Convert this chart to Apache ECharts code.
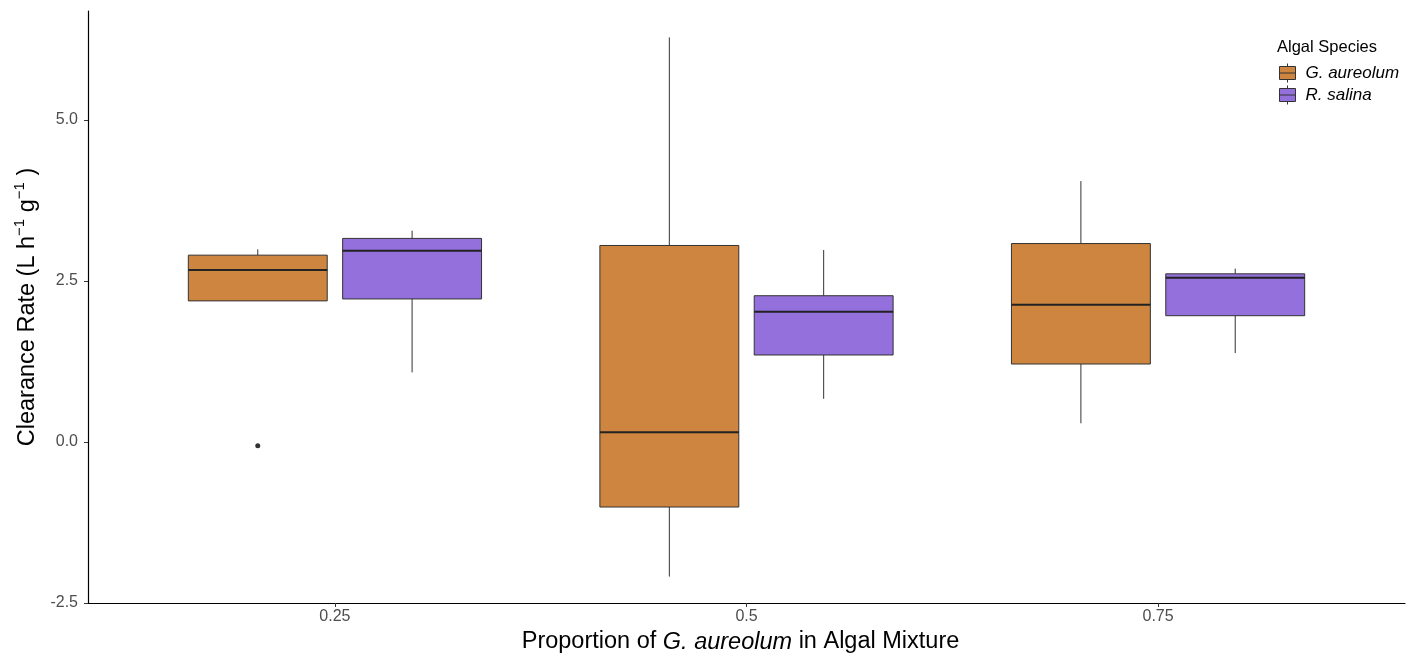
<!DOCTYPE html>
<html>
<head>
<meta charset="utf-8">
<script src="https://cdn.jsdelivr.net/npm/echarts@6/dist/echarts.min.js"></script>
<style>html,body{margin:0;padding:0;background:#fff}#c{width:1417px;height:670px}</style>
</head>
<body>
<div id="c"></div>
<script>
// ---- data ----
const categories = ['0.25', '0.5', '0.75'];
const speciesNames = ['G. aureolum', 'R. salina'];
// [min, Q1, median, Q3, max] per category
const gAureolum = [
  [2.19, 2.19, 2.67, 2.90, 2.99],
  [-2.09, -1.01, 0.15, 3.05, 6.28],
  [0.29, 1.21, 2.13, 3.08, 4.05]
];
const rSalina = [
  [1.08, 2.22, 2.97, 3.16, 3.28],
  [0.67, 1.35, 2.02, 2.27, 2.98],
  [1.38, 1.96, 2.55, 2.61, 2.69]
];
// outliers: [categoryIndex, value]
const gOutliers = [[0, -0.06]];
const rOutliers = [];
const yTicks = [-2.5, 0, 2.5, 5];

// ---- layout/style ----
const FONT = 'Liberation Sans, Arial, sans-serif';
const COLORS = ['#CD853F', '#9370DB'];
const DODGE = 0.1875;
const BOX_W = 0.3375;

function rows(stats) {
  return stats.map((s, i) => [i + 1].concat(s));
}
function makeRender(offset, color) {
  return function (params, api) {
    const x = api.value(0) + offset;
    const w = api.size([BOX_W, 0])[0];
    const pMin = api.coord([x, api.value(1)]);
    const pQ1 = api.coord([x, api.value(2)]);
    const pMed = api.coord([x, api.value(3)]);
    const pQ3 = api.coord([x, api.value(4)]);
    const pMax = api.coord([x, api.value(5)]);
    const cx = pMin[0];
    const ws = { stroke: '#333333', lineWidth: 1 };
    return {
      type: 'group',
      children: [
        { type: 'line', shape: { x1: cx, y1: pMax[1], x2: cx, y2: pQ3[1] }, style: ws },
        { type: 'line', shape: { x1: cx, y1: pQ1[1], x2: cx, y2: pMin[1] }, style: ws },
        { type: 'rect', shape: { x: cx - w / 2, y: pQ3[1], width: w, height: pQ1[1] - pQ3[1] },
          style: { fill: color, stroke: '#333333', lineWidth: 1 } },
        { type: 'line', shape: { x1: cx - w / 2, y1: pMed[1], x2: cx + w / 2, y2: pMed[1] },
          style: { stroke: '#222222', lineWidth: 2 } }
      ]
    };
  };
}

const chart = echarts.init(document.getElementById('c'), null, { renderer: 'canvas' });
const option = {
  backgroundColor: '#ffffff',
  animation: false,
  title: {
    text: 'Algal Species',
    left: 1277, top: 39,
    padding: 0,
    textStyle: { fontFamily: FONT, fontSize: 16.5, fontWeight: 'normal', color: '#000' }
  },
  legend: {
    orient: 'vertical',
    left: 1279, top: 63,
    padding: 0,
    itemWidth: 16, itemHeight: 19, itemGap: 2,
    icon: 'path://M8,0V3M0,3H16V16H0ZM8,16V19M0,9.5H16',
    itemStyle: { borderColor: '#333333', borderWidth: 1 },
    textStyle: { fontFamily: FONT, fontSize: 17, fontStyle: 'italic', color: '#000', padding: [0, 0, 0, 5] },
    data: speciesNames
  },
  grid: { left: 88, right: 12, top: 11, bottom: 67, containLabel: false },
  xAxis: {
    type: 'value',
    min: 0.4, max: 3.6,
    name: '{n|Proportion of }{i|G. aureolum}{n| in Algal Mixture}',
    nameLocation: 'middle',
    nameGap: 27,
    nameTextStyle: {
      padding: [0, 12, 0, 0],
      rich: {
        n: { fontFamily: FONT, fontSize: 23.5, color: '#000' },
        i: { fontFamily: FONT, fontSize: 23.5, fontStyle: 'italic', color: '#000' }
      }
    },
    axisLine: { show: true, onZero: false, lineStyle: { color: '#000', width: 1.2 } },
    axisTick: { show: true, length: 4, lineStyle: { color: '#333' }, customValues: [1, 2, 3] },
    axisLabel: {
      customValues: [1, 2, 3],
      formatter: v => categories[Math.round(v) - 1],
      fontFamily: FONT, fontSize: 16, color: '#4D4D4D', margin: 6
    },
    splitLine: { show: false }
  },
  yAxis: {
    type: 'value',
    min: -2.5, max: 6.69,
    name: '{n|Clearance Rate (L h}{s|−1}{n| g}{s|−1}{n| )}',
    nameLocation: 'middle',
    nameGap: 41,
    nameTextStyle: {
      rich: {
        n: { fontFamily: FONT, fontSize: 23.5, color: '#000', lineHeight: 30 },
        s: { fontFamily: FONT, fontSize: 15, color: '#000', verticalAlign: 'top', lineHeight: 16 }
      }
    },
    axisLine: { show: true, onZero: false, lineStyle: { color: '#000', width: 1.2 } },
    axisTick: { show: true, length: 4, lineStyle: { color: '#333' }, customValues: yTicks },
    axisLabel: {
      customValues: yTicks,
      formatter: v => v.toFixed(1),
      fontFamily: FONT, fontSize: 16, color: '#4D4D4D', margin: 10
    },
    splitLine: { show: false }
  },
  series: [
    {
      name: speciesNames[0], type: 'custom',
      itemStyle: { color: COLORS[0] },
      encode: { x: 0, y: [1, 2, 3, 4, 5] },
      renderItem: makeRender(-DODGE, COLORS[0]),
      data: rows(gAureolum)
    },
    {
      name: speciesNames[1], type: 'custom',
      itemStyle: { color: COLORS[1] },
      encode: { x: 0, y: [1, 2, 3, 4, 5] },
      renderItem: makeRender(DODGE, COLORS[1]),
      data: rows(rSalina)
    },
    {
      name: 'outliers-g', type: 'scatter', symbolSize: 5,
      itemStyle: { color: '#000' },
      data: gOutliers.map(o => [o[0] + 1 - DODGE, o[1]])
    },
    {
      name: 'outliers-r', type: 'scatter', symbolSize: 5,
      itemStyle: { color: '#000' },
      data: rOutliers.map(o => [o[0] + 1 + DODGE, o[1]])
    }
  ]
};
chart.setOption(option);
</script>
</body>
</html>
